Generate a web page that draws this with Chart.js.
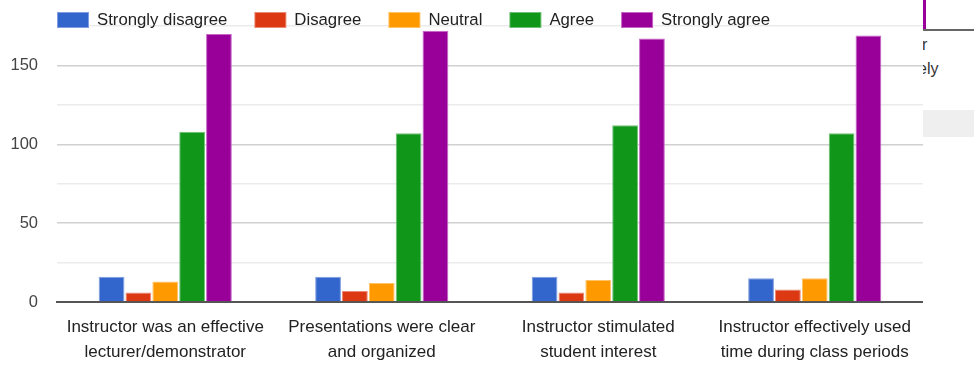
<!DOCTYPE html>
<html>
<head>
<meta charset="utf-8">
<script src="https://cdn.jsdelivr.net/npm/chart.js@4"></script>
<style>
  html, body { margin: 0; padding: 0; background: #fff; }
  #wrap { position: relative; width: 974px; height: 365px; }
  #side { position: absolute; left: 923px; top: 0; width: 51px; height: 365px; overflow: hidden; background: #fff;
          font-family: "Liberation Sans", Arial, sans-serif; font-size: 16px; color: #333; }
  #side div { position: absolute; }
</style>
</head>
<body>
<div id="wrap">
  <canvas id="chart" width="974" height="365"></canvas>
  <div id="side">
    <div style="left:0;top:0;width:3px;height:29px;background:#990099"></div>
    <div style="left:0;top:29px;width:51px;height:2px;background:#666"></div>
    <div style="left:-10px;top:36px">er</div>
    <div style="left:-5px;top:60px">ely</div>
    <div style="left:0;top:110px;width:51px;height:27px;background:#efefef"></div>
  </div>
</div>
<script>
const categories = [
  ['Instructor was an effective', 'lecturer/demonstrator'],
  ['Presentations were clear', 'and organized'],
  ['Instructor stimulated', 'student interest'],
  ['Instructor effectively used', 'time during class periods']
];
const seriesNames = ['Strongly disagree', 'Disagree', 'Neutral', 'Agree', 'Strongly agree'];
const stronglyDisagree = [16, 16, 16, 15];
const disagree = [6, 7, 6, 8];
const neutral = [13, 12, 14, 15];
const agree = [108, 107, 112, 107];
const stronglyAgree = [170, 172, 167, 169];
const yTicks = [0, 50, 100, 150];

const colors = ['#3366cc', '#dc3912', '#ff9900', '#109618', '#990099'];
const edges = ['#7f9de0', '#ec8a75', '#ffc266', '#70c178', '#c766c7'];
const values = [stronglyDisagree, disagree, neutral, agree, stronglyAgree];

const font = '"Liberation Sans", Arial, sans-serif';

// legend drawn by hand so it can sit on top of the plot like the original
const legendPlugin = {
  id: 'topLegend',
  afterDraw(chart) {
    const ctx = chart.ctx;
    ctx.save();
    ctx.font = '16.75px ' + font;
    ctx.textBaseline = 'middle';
    let x = 57;
    chart.data.datasets.forEach(ds => {
      ctx.fillStyle = ds.borderColor;
      ctx.fillRect(x, 12, 32, 16);
      ctx.fillStyle = ds.backgroundColor;
      ctx.fillRect(x + 1, 13, 30, 14);
      ctx.fillStyle = '#222';
      ctx.fillText(ds.label, x + 40, 20);
      x += 40 + ctx.measureText(ds.label).width + 27;
    });
    ctx.restore();
  }
};

new Chart(document.getElementById('chart'), {
  type: 'bar',
  data: {
    labels: categories,
    datasets: seriesNames.map((name, i) => ({
      label: name,
      data: values[i],
      backgroundColor: colors[i],
      borderColor: edges[i],
      borderWidth: 1,
      categoryPercentage: 0.62,
      barPercentage: 0.96
    }))
  },
  options: {
    responsive: false,
    animation: false,
    layout: { padding: { top: 26, right: 51, left: 0, bottom: 0 } },
    plugins: { legend: { display: false }, tooltip: { enabled: false } },
    scales: {
      x: {
        grid: { display: false },
        border: { color: '#555', width: 2 },
        ticks: { color: '#222', font: { family: font, size: 17, lineHeight: 1.48 }, padding: 5, maxRotation: 0 },
        afterFit(scale) { scale.height = 63; }
      },
      y: {
        min: 0,
        max: 175,
        border: { display: false },
        grid: {
          drawTicks: false,
          color: ctx => (ctx.tick && yTicks.includes(ctx.tick.value)) ? '#d0d0d0' : '#ebebeb',
          lineWidth: 1.5
        },
        ticks: {
          stepSize: 25,
          padding: 19,
          color: '#444',
          font: { family: font, size: 16.5, lineHeight: 0.8 },
          callback: v => yTicks.includes(v) ? String(v) : ''
        },
        afterFit(scale) { scale.width = 57; }
      }
    }
  },
  plugins: [legendPlugin]
});
</script>
</body>
</html>
